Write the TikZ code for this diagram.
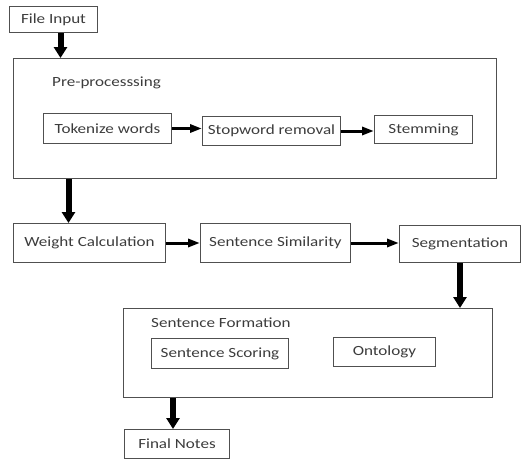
\documentclass[tikz,border=0pt]{standalone}
\usepackage{fontspec}
\setmainfont{Carlito}[FakeStretch=1.22]
\usetikzlibrary{arrows.meta}

\definecolor{boxgray}{HTML}{505050}
\definecolor{textgray}{HTML}{3C3C3C}

\tikzstyle {block} = [draw=boxgray, line width=1pt, anchor=north west, inner sep=0pt, text=textgray, font=\fontsize{14}{16}\selectfont]
\tikzstyle {groupbox} = [draw=boxgray, line width=1pt, anchor=north west, inner sep=0pt]
\tikzstyle {label} = [anchor=west, inner sep=0pt, text=textgray, font=\fontsize{14}{16}\selectfont]
\tikzstyle {bigarrow} = [line width=6pt, -{Triangle[length=11pt,width=13pt]}]
\tikzstyle {smallarrow} = [line width=3pt, -{Triangle[length=12pt,width=8pt]}]

\begin{document}
\begin{tikzpicture}[x=1pt, y=-1pt]
            \useasboundingbox (0,0) rectangle (522,459);
            % top part
            \node [block, minimum width=88pt, minimum height=26pt] (input) at (9,6) {File Input};
            \node [groupbox, minimum width=483pt, minimum height=120pt] (pre) at (13,58) {};
            \node [label] (prelabel) at (52,83) {Pre-processsing};
            \node [block, minimum width=128pt, minimum height=30pt] (tokenize) at (43,113) {Tokenize words};
            \node [block, minimum width=138pt, minimum height=29pt] (stopword) at (202,116) {Stopword removal};
            \node [block, minimum width=98pt, minimum height=28pt] (stemming) at (374,115) {Stemming};
            % middle row
            \node [block, minimum width=152pt, minimum height=39pt] (weight) at (13,223) {Weight Calculation};
            \node [block, minimum width=150pt, minimum height=39pt] (similarity) at (200,223) {Sentence Similarity};
            \node [block, minimum width=121pt, minimum height=37pt] (segment) at (399,225) {Segmentation};
            % bottom part
            \node [groupbox, minimum width=369pt, minimum height=89pt] (formation) at (123,308) {};
            \node [label] (formlabel) at (151,323) {Sentence Formation};
            \node [block, minimum width=137pt, minimum height=30pt] (scoring) at (151,338) {Sentence Scoring};
            \node [block, minimum width=102pt, minimum height=29pt] (ontology) at (333,337) {Ontology};
            \node [block, minimum width=105pt, minimum height=29pt] (final) at (124,429) {Final Notes};

            \draw [bigarrow] ([xshift=7pt]input.south) -- ([xshift=7pt]input.south |- pre.north);
            \draw [smallarrow] (tokenize.east) -- (tokenize.east -| stopword.west);
            \draw [smallarrow] (stopword.east) -- (stopword.east -| stemming.west);
            \draw [bigarrow] ([xshift=-21pt]weight.north |- pre.south) -- ([xshift=-21pt]weight.north);
            \draw [smallarrow] (weight.east) -- (weight.east -| similarity.west);
            \draw [smallarrow] (similarity.east) -- (similarity.east -| segment.west);
            \draw [bigarrow] (segment.south) -- (segment.south |- formation.north);
            \draw [bigarrow] ([xshift=-4pt]final.north |- formation.south) -- ([xshift=-4pt]final.north);
        \end{tikzpicture}
\end{document}
